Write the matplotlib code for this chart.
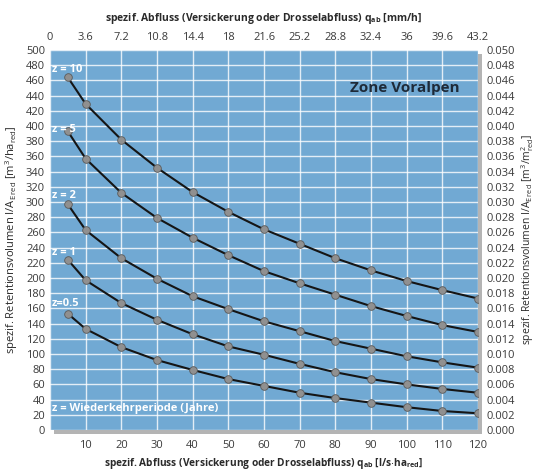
import matplotlib
matplotlib.use("Agg")

import numpy as np
import matplotlib.pyplot as plt
from matplotlib.patches import Rectangle

# spezif. Abfluss q_ab [l/s*ha_red]
q_ab = [5, 10, 20, 30, 40, 50, 60, 70, 80, 90, 100, 110, 120]

# spezif. Retentionsvolumen [m3/ha_red] per Wiederkehrperiode z
v_z10 = [464, 429, 382, 345, 313, 287, 264, 245, 226, 210, 196, 184, 173]
v_z5 = [393, 357, 312, 279, 253, 230, 209, 193, 178, 163, 150, 138, 129]
v_z2 = [297, 263, 226, 199, 176, 159, 143, 130, 117, 107, 97, 89, 82]
v_z1 = [224, 197, 167, 145, 126, 110, 99, 87, 76, 67, 60, 54, 49]
v_z05 = [153, 133, 109, 92, 79, 67, 58, 49, 42, 36, 30, 25, 22]

curves = [("z = 10", v_z10, 475), ("z = 5", v_z5, 396), ("z = 2", v_z2, 309),
          ("z = 1", v_z1, 233), ("z=0.5", v_z05, 167)]

x_ticks = list(range(10, 130, 10))
top_ticks = [0, 3.6, 7.2, 10.8, 14.4, 18, 21.6, 25.2, 28.8, 32.4, 36, 39.6, 43.2]
right_ticks = np.round(np.arange(0, 0.0501, 0.002), 3)

C_BG = "#71a9d3"    # blue panel
C_TXT = "#3a3a3a"   # tick text
C_SHD = "#b4b4b4"   # panel shadow

plt.rcParams["font.family"] = ["Open Sans", "DejaVu Sans"]
plt.rcParams["mathtext.default"] = "regular"

fig = plt.figure(figsize=(5.39, 4.73), dpi=100, facecolor="white")
L, B, W, H = 50 / 539, 1 - 430 / 473, 428 / 539, 380 / 473

# gray drop shadow behind the panel
shadow = fig.add_axes([L + 4 / 539, B - 4 / 473, W, H], zorder=-1)
shadow.set_axis_off()
shadow.add_patch(Rectangle((0, 0), 1, 1, transform=shadow.transAxes, color=C_SHD))

ax = fig.add_axes([L, B, W, H], zorder=1)
ax.set_facecolor(C_BG)
ax.set_xlim(0, 120)
ax.set_ylim(0, 500)
for s in ax.spines.values():
    s.set_visible(False)

ax.set_xticks(x_ticks)
ax.set_xticks(range(0, 121, 10), minor=True)
ax.set_yticks(range(0, 501, 20))
ax.grid(True, which="both", color="white", linewidth=1.0, alpha=0.8)
ax.set_axisbelow(True)
ax.tick_params(axis="both", which="both", length=0, labelsize=8, colors=C_TXT)
ax.tick_params(axis="x", pad=7)

for label, vals, ly in curves:
    ax.plot(q_ab, vals, color="#151515", linewidth=1.5, zorder=3)
    ax.plot(q_ab, vals, "o", markersize=5.5, markerfacecolor="#909090",
            markeredgecolor="#5a5a5a", markeredgewidth=0.6, zorder=4)
    ax.text(0.6, ly, label, color="white", fontsize=8, fontweight="bold",
            ha="left", va="center", zorder=5)

ax.text(0.6, 28, "z = Wiederkehrperiode (Jahre)", color="white", fontsize=8,
        fontweight="bold", ha="left", va="center")
ax.text(99.5, 450, "Zone Voralpen", color="#1e2a38", fontsize=11,
        fontweight="bold", ha="center", va="center")

ax.set_xlabel(r"spezif. Abfluss (Versickerung oder Drosselabfluss) q$_{ab}$ [l/s$\cdot$ha$_{red}$]",
              fontsize=7.3, fontweight="bold", color="#2a2a2a", labelpad=4)
ax.set_ylabel(r"spezif. Retentionsvolumen I/A$_{E\,red}$ [m$^3$/ha$_{red}$]",
              fontsize=8, color="#2a2a2a", labelpad=4)

top = ax.secondary_xaxis("top", functions=(lambda x: x * 0.36, lambda x: x / 0.36))
top.set_xticks(top_ticks)
top.set_xticklabels([f"{t:g}" for t in top_ticks])
top.tick_params(length=0, labelsize=8, colors=C_TXT, pad=5)
top.spines["top"].set_visible(False)
top.set_xlabel(r"spezif. Abfluss (Versickerung oder Drosselabfluss) q$_{ab}$ [mm/h]",
               fontsize=7.5, fontweight="bold", color="#2a2a2a", labelpad=8)

right = ax.secondary_yaxis("right", functions=(lambda y: y / 1e4, lambda y: y * 1e4))
right.set_yticks(right_ticks)
right.set_yticklabels([f"{t:.3f}" for t in right_ticks])
right.tick_params(length=0, labelsize=8, colors=C_TXT, pad=6)
right.spines["right"].set_visible(False)
right.set_ylabel(r"spezif. Retentionsvolumen I/A$_{E\,red}$ [m$^3$/m$^2_{red}$]",
                 fontsize=7.5, color="#2a2a2a", labelpad=3)

fig.savefig("out.png", dpi=100, facecolor="white")
